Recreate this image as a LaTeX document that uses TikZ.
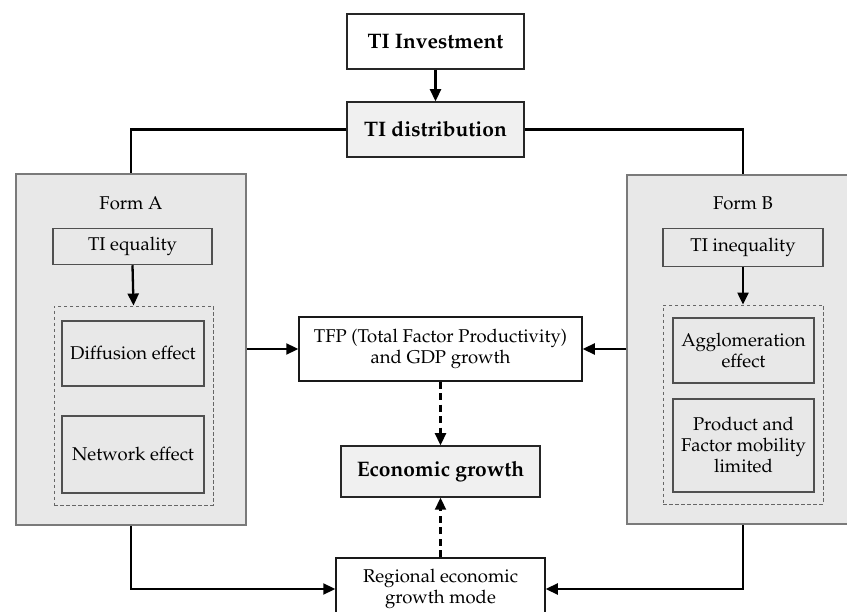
\documentclass[tikz,border=0pt]{standalone}
\usepackage[T1]{fontenc}
\usepackage{mathpazo}
\usetikzlibrary{arrows.meta}
\definecolor{formfill}{HTML}{E8E8E8}
\definecolor{keyfill}{HTML}{F0F0F0}
\definecolor{formline}{HTML}{7A7A7A}
\definecolor{innerline}{HTML}{505050}
\definecolor{dashline}{HTML}{666666}
\tikzset{
  base/.style={draw, line width=1.5pt, align=center, inner sep=2pt,
    font=\fontsize{18.5}{21}\selectfont},
  plainbox/.style={base, draw=black!90, fill=white},
  keybox/.style={base, draw=black!85, fill=keyfill, font=\fontsize{21}{24}\selectfont\bfseries},
  formbox/.style={draw=formline, line width=1.5pt, fill=formfill},
  innerbox/.style={base, draw=innerline},
  dashbox/.style={draw=dashline, line width=0.9pt, dash pattern=on 3.5pt off 2.5pt},
  conn/.style={line width=2.3pt, draw=black},
  arr/.style={conn, -{Triangle[length=12pt,width=11pt]}},
  darr/.style={arr, dash pattern=on 7pt off 4.5pt},
  lbl/.style={font=\fontsize{18.5}{21}\selectfont}
}
\begin{document}
\begin{tikzpicture}[x=1pt,y=-1pt]
\useasboundingbox (0,0) rectangle (847,612);
\clip (0,0) rectangle (847,612);
% top
\node[keybox, fill=white, minimum width=177pt, minimum height=55pt] (inv) at (435.5,41.5) {TI Investment};
\node[keybox, minimum width=177pt, minimum height=55pt] (dist) at (435.5,129.5) {TI distribution};
% forms
\node[formbox, minimum width=230pt, minimum height=351pt] (formA) at (131,349.5) {};
\node[formbox, minimum width=232pt, minimum height=349pt] (formB) at (743,349.5) {};
\node[lbl] (labA) at (131,203) {Form A};
\node[lbl] (labB) at (743,203) {Form B};
\node[innerbox, minimum width=159pt, minimum height=36pt] (eqA) at (132.5,246.5) {TI equality};
\node[innerbox, minimum width=160pt, minimum height=38pt] (eqB) at (743,247.5) {TI inequality};
\node[dashbox, minimum width=159pt, minimum height=199pt] (dashA) at (133.5,405.5) {};
\node[dashbox, minimum width=160pt, minimum height=199pt] (dashB) at (743,404.5) {};
\node[innerbox, minimum width=142pt, minimum height=65pt] (diff) at (133,353.5) {Diffusion effect};
\node[innerbox, minimum width=142pt, minimum height=77pt] (net) at (133,454.5) {Network effect};
\node[innerbox, minimum width=141pt, minimum height=65pt] (agg) at (743.5,350.5) {Agglomeration\\effect};
\node[innerbox, minimum width=141pt, minimum height=93pt] (prod) at (743.5,445.5) {Product and\\Factor mobility\\limited};
% centre
\node[plainbox, minimum width=283pt, minimum height=64pt] (tfp) at (440.5,349) {TFP (Total Factor Productivity)\\and GDP growth};
\node[keybox, minimum width=199pt, minimum height=51pt] (eco) at (440.5,471.5) {Economic growth};
\node[plainbox, minimum width=209pt, minimum height=62pt] (reg) at (440.5,589) {Regional economic\\growth mode};
% connectors
\draw[arr] (inv.south) -- (dist.north);
\draw[conn] (dist.west) -| (formA.north);
\draw[conn] (dist.east) -| (formB.north);
\draw[arr] (eqA.south) -- (dashA.north);
\draw[arr] (eqB.south) -- (dashB.north);
\draw[arr] (formA.east |- tfp.west) -- (tfp.west);
\draw[arr] (formB.west |- tfp.east) -- (tfp.east);
\draw[darr] (tfp.south) -- (eco.north);
\draw[darr] (reg.north) -- (eco.south);
\draw[arr] (formA.south) |- (reg.west);
\draw[arr] (formB.south) |- (reg.east);
\end{tikzpicture}
\end{document}
